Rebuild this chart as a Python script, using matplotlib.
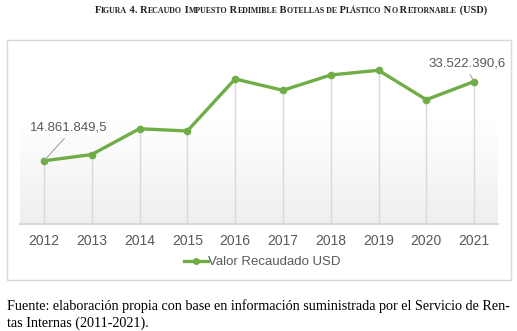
import numpy as np
import matplotlib.pyplot as plt
from matplotlib.patches import Rectangle
from matplotlib.offsetbox import TextArea, HPacker, AnchoredOffsetbox
from matplotlib.lines import Line2D

years = ['2012', '2013', '2014', '2015', '2016', '2017', '2018', '2019', '2020', '2021']
valores = [14861849.5, 16340000, 22420000, 21880000, 34120000, 31460000,
           35060000, 36170000, 29250000, 33522390.6]
etiquetas = {0: '14.861.849,5', 9: '33.522.390,6'}
verde = '#70ad47'
gris = '#595959'

fig = plt.figure(figsize=(5.17, 3.31), dpi=100)

# marco del grafico
fig.patches.append(Rectangle((7/517, 1-280/331), 504/517, 240/331, transform=fig.transFigure,
                             facecolor='white', edgecolor='#d9d9d9', lw=1.0, zorder=-5))

ax = fig.add_axes([20/517, 1-224/331, 478/517, 170/331])
ax.set_facecolor('none')
x = np.arange(len(years))
ax.set_xlim(-0.5, len(years)-0.5)
ax.set_ylim(0, 40000000)

# degradado de fondo
grad = np.linspace(0, 1, 256)
grad = np.clip(grad / 0.6, 0, 1)
cols = np.ones((256, 1, 3))
for k in range(3):
    cols[:, 0, k] = 1 - 0.065 * (1 - grad)
ax.imshow(cols, extent=[-0.5, len(years)-0.5, 0, 40000000], origin='lower',
          aspect='auto', zorder=0)

ax.vlines(x, 0, valores, colors='#d9d9d9', lw=1.0, zorder=1)
ax.plot(x, valores, color=verde, lw=2.4, marker='o', ms=4.5, zorder=3,
        solid_joinstyle='round')

for s in ['top', 'right', 'left']:
    ax.spines[s].set_visible(False)
ax.spines['bottom'].set_color('#d9d9d9')
ax.spines['bottom'].set_linewidth(1.5)
ax.set_yticks([])
ax.set_xticks(x)
ax.set_xticklabels(years, fontsize=10, color=gris, family='Liberation Sans')
ax.tick_params(axis='x', length=0, pad=7)

ax.annotate(etiquetas[0], xy=(0, valores[0]), xytext=(-10, 24), textcoords='offset points',
            fontsize=9.5, color=gris, family='Liberation Sans', ha='left', va='center',
            arrowprops=dict(arrowstyle='-', color='#a6a6a6', lw=0.8, shrinkA=2, shrinkB=1,
                            relpos=(0.5, 0)))
ax.annotate(etiquetas[9], xy=(9, valores[9]), xytext=(-33, 13), textcoords='offset points',
            fontsize=9.5, color=gris, family='Liberation Sans', ha='left', va='center',
            arrowprops=dict(arrowstyle='-', color='#a6a6a6', lw=0.8, shrinkA=2, shrinkB=1,
                            relpos=(0.5, 0)))

h = Line2D([], [], color=verde, lw=2.4, marker='o', ms=4)
fig.legend([h], ['Valor Recaudado USD'], loc='center', bbox_to_anchor=(262/517, 1-262/331),
           frameon=False, prop={'family': 'Liberation Sans', 'size': 9.5},
           labelcolor=gris, handlelength=1.8, handletextpad=0.0, borderpad=0)

# titulo en versalitas
grande, chica = 7.5, 5.7
partes = [('F', grande), ('IGURA', chica), (' 4. R', grande), ('ECAUDO', chica), (' I', grande),
          ('MPUESTO', chica), (' R', grande), ('EDIMIBLE', chica), (' B', grande),
          ('OTELLAS DE', chica), (' P', grande), ('LÁSTICO', chica), (' N', grande), ('O', chica),
          (' R', grande), ('ETORNABLE', chica), (' (USD)', grande)]
cajas = [TextArea(t, textprops=dict(fontsize=s, fontweight='bold', family='Liberation Serif',
                                    color='#222222')) for t, s in partes]
fila = HPacker(children=cajas, align='baseline', pad=0, sep=0)
tit = AnchoredOffsetbox(loc='center', child=fila, frameon=False, pad=0,
                        bbox_to_anchor=(291/517, 1-10/331), bbox_transform=fig.transFigure)
fig.add_artist(tit)

fig.text(7/517, 1-306/331,
         'Fuente: elaboración propia con base en información suministrada por el Servicio de Ren-',
         fontsize=10.2, family='Liberation Serif', color='black', va='center', ha='left')
fig.text(7/517, 1-323/331, 'tas Internas (2011-2021).',
         fontsize=10.2, family='Liberation Serif', color='black', va='center', ha='left')

fig.savefig('out.png', dpi=100)
